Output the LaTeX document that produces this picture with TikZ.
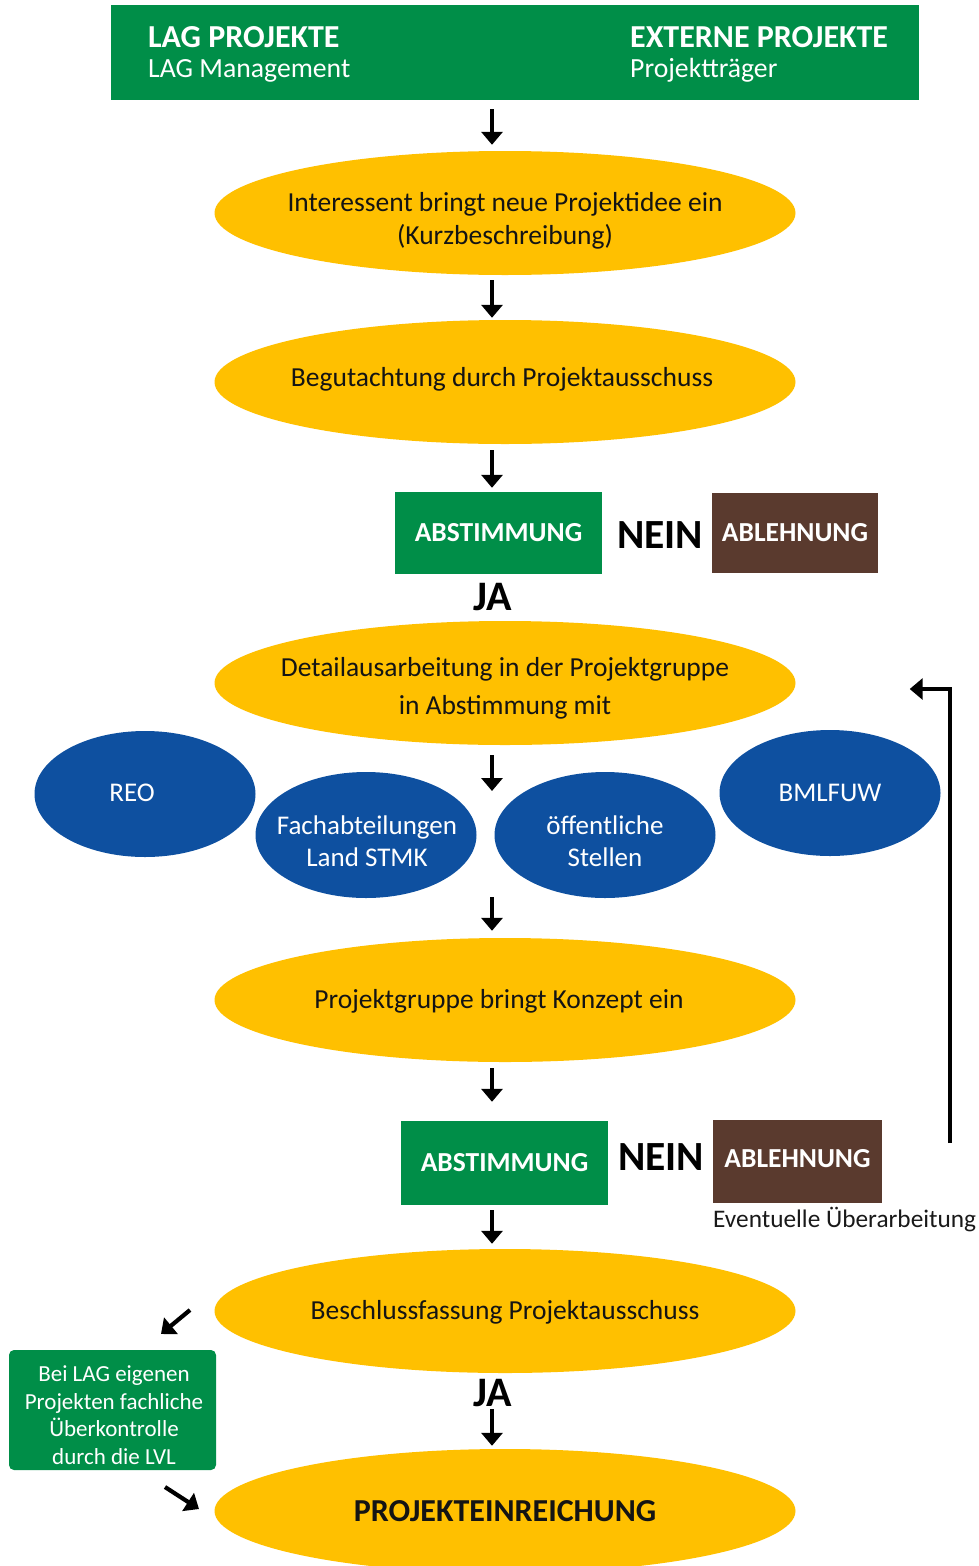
\documentclass[tikz,border=0pt]{standalone}
\usepackage{fontspec}
\setmainfont{Carlito}
\usetikzlibrary{arrows.meta,shapes.geometric,calc}
\definecolor{lgreen}{RGB}{0,142,72}
\definecolor{lyellow}{RGB}{255,192,0}
\definecolor{lbrown}{RGB}{90,58,46}
\definecolor{lblue}{RGB}{14,80,160}
\tikzset{
  yell/.style={ellipse, fill=lyellow, minimum width=581pt, minimum height=124pt, inner sep=0pt},
  blueell/.style={ellipse, fill=lblue, minimum width=221pt, minimum height=126pt, inner sep=0pt},
  gbox/.style={rectangle, fill=lgreen, inner sep=0pt},
  bbox/.style={rectangle, fill=lbrown, inner sep=0pt},
  arr/.style={-{Triangle[width=21pt,length=13pt]}, line width=4.2pt, black},
  etxt/.style={font=\fontsize{27.5}{33}\selectfont, align=center, text=black!92},
  wtxt/.style={font=\fontsize{27}{32}\selectfont, align=center, text=white},
  btxt/.style={font=\fontsize{27.5}{30}\selectfont\bfseries, text=white},
  bigtxt/.style={font=\fontsize{41.5}{42}\selectfont\bfseries, text=black},
}
\begin{document}
\begin{tikzpicture}[x=1pt,y=-1pt]
\useasboundingbox (0,0) rectangle (978,1566);
\coordinate (ax) at (492,0);

% header
\node[gbox, minimum width=808pt, minimum height=95pt] (top) at (515,52.5) {};
\node[anchor=base west, font=\fontsize{32}{33}\selectfont\bfseries, text=white, inner sep=0pt] (h1) at (148,47) {LAG PROJEKTE};
\node[anchor=base west, font=\fontsize{27.7}{29}\selectfont, text=white, inner sep=0pt] (h2) at (148,77) {LAG Management};
\node[anchor=base west, font=\fontsize{32}{33}\selectfont\bfseries, text=white, inner sep=0pt] (h3) at (630,47) {EXTERNE PROJEKTE};
\node[anchor=base west, font=\fontsize{27.7}{29}\selectfont, text=white, inner sep=0pt] (h4) at (630,77) {Projektträger};

% ellipses
\node[yell] (e1) at (505,213) {};
\node[etxt] (e1t) at (505,221) {Interessent bringt neue Projektidee ein\\(Kurzbeschreibung)};
\node[yell] (e2) at (505,382) {};
\node[etxt] (e2t) at (502,379) {Begutachtung durch Projektausschuss};

\node[gbox, minimum width=207pt, minimum height=82pt] (ab1) at (498.5,533) {};
\node[btxt] (ab1t) at (498.5,533) {ABSTIMMUNG};
\node[bigtxt] (nein1) at (660,535) {NEIN};
\node[bbox, minimum width=166pt, minimum height=80pt] (abl1) at (795,533) {};
\node[btxt] (abl1t) at (795,533) {ABLEHNUNG};
\node[bigtxt, font=\fontsize{42}{42}\selectfont\bfseries] (ja1) at (493,597) {JA};

\node[yell] (e3) at (505,683) {};
\node[etxt, font=\fontsize{27.5}{38}\selectfont] (e3t) at (505,688) {Detailausarbeitung in der Projektgruppe\\in Abstimmung mit};

\node[blueell] (reo) at (145,794) {};
\node[wtxt] (reot) at (132,793) {REO};
\node[blueell] (fach) at (366,835) {};
\node[wtxt] (facht) at (367,841) {Fachabteilungen\\Land STMK};
\node[blueell] (oeff) at (605,835) {};
\node[wtxt] (oefft) at (605,841) {öffentliche\\Stellen};
\node[blueell] (bml) at (830,793) {};
\node[wtxt] (bmlt) at (830,793) {BMLFUW};

\node[yell] (e4) at (505,1000) {};
\node[etxt] (e4t) at (499,1001) {Projektgruppe bringt Konzept ein};

\node[gbox, minimum width=207pt, minimum height=84pt] (ab2) at (504.5,1163) {};
\node[btxt] (ab2t) at (504.5,1163) {ABSTIMMUNG};
\node[bigtxt] (nein2) at (661,1157) {NEIN};
\node[bbox, minimum width=169pt, minimum height=83pt] (abl2) at (797.5,1161.5) {};
\node[btxt] (abl2t) at (797.5,1159) {ABLEHNUNG};
\node[anchor=west, font=\fontsize{25.3}{27}\selectfont, text=black!90, inner sep=0pt] (ueb) at (713,1220) {Eventuelle Überarbeitung};

\node[yell] (e5) at (505,1311) {};
\node[etxt] (e5t) at (505,1312) {Beschlussfassung Projektausschuss};

\node[bigtxt, font=\fontsize{42}{42}\selectfont\bfseries] (ja2) at (493,1393) {JA};

\node[gbox, rounded corners=5pt, minimum width=207pt, minimum height=120pt] (lvl) at (112.5,1410) {};
\node[wtxt, font=\fontsize{23}{27.5}\selectfont] (lvlt) at (114,1415) {Bei LAG eigenen\\Projekten fachliche\\Überkontrolle\\durch die LVL};

\node[yell] (e6) at (505,1511) {};
\node[etxt, font=\fontsize{32}{33}\selectfont\bfseries] (e6t) at (505,1511) {PROJEKTEINREICHUNG};

% connectors
\draw[arr, shorten <=9pt, shorten >=6pt] (top.south -| ax) -- (e1.north -| ax);
\draw[arr, shorten <=5pt, shorten >=2pt] (e1.south -| ax) -- (e2.north -| ax);
\draw[arr, shorten <=6pt, shorten >=4pt] (e2.south -| ax) -- (ab1.north -| ax);
\coordinate (c4) at (492,791);
\draw[arr, shorten <=10pt] (e3.south -| ax) -- (c4);
\coordinate (c5) at (492,897);
\draw[arr, shorten >=7pt] (c5) -- (e4.north -| ax);
\draw[arr, shorten <=6pt, shorten >=19pt] (e4.south -| ax) -- (ab2.north -| ax);
\draw[arr, shorten <=5pt, shorten >=5pt] (ab2.south -| ax) -- (e5.north -| ax);
\draw[arr, shorten <=36pt, shorten >=3pt] (e5.south -| ax) -- (e6.north -| ax);

\coordinate (fb) at (950,1143);
\draw[arr, shorten >=114pt] (fb) |- ([yshift=-6pt]e3.east);

\coordinate (d1a) at (190,1310);
\coordinate (d1b) at (161,1334);
\draw[arr] (d1a) -- (d1b);
\coordinate (d2a) at (165,1487);
\coordinate (d2b) at (199,1509);
\draw[arr] (d2a) -- (d2b);
\end{tikzpicture}
\end{document}
